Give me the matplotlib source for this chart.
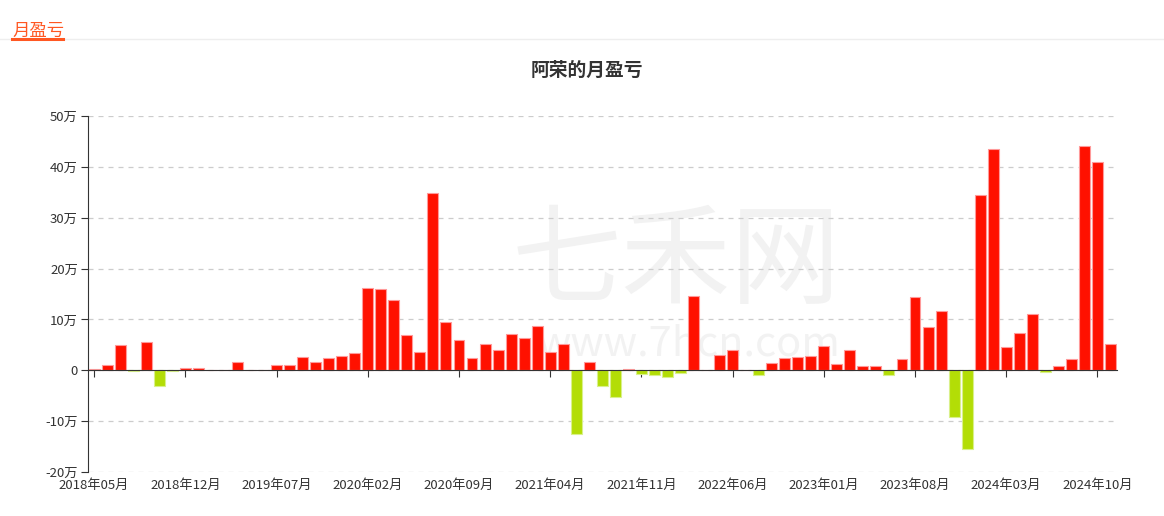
import matplotlib
matplotlib.use("Agg")
import matplotlib.pyplot as plt
from matplotlib.lines import Line2D
import numpy as np

plt.rcParams['font.family'] = ['Noto Sans CJK SC', 'DejaVu Sans']

title = "阿荣的月盈亏"
header = "月盈亏"

# months 2018-05 .. 2024-11
months = []
y, m = 2018, 5
while (y, m) <= (2024, 11):
    months.append(f"{y}年{m:02d}月")
    m += 1
    if m > 12:
        y, m = y + 1, 1

# monthly profit / loss, unit: 万
pnl = [0.3, 1.1, 5.05, -0.2, 5.5, -3.0, -0.2, 0.5, 0.5, 0.05,
       0.0, 1.6, 0.03, 0.0, 1.1, 1.1, 2.56, 1.64, 2.36, 2.88,
       3.47, 16.25, 15.9, 13.76, 7.0, 3.67, 34.73, 9.44, 6.03, 2.36,
       5.18, 3.93, 7.2, 6.29, 8.65, 3.6, 5.18, -12.39, 1.57, -3.01,
       -5.31, 0.2, -0.66, -0.92, -1.38, -0.46, 14.68, 0.05, 2.95, 4.06,
       0.02, -0.85, 1.44, 2.42, 2.56, 2.88, 4.85, 1.31, 4.06, 0.79,
       0.79, -0.98, 2.23, 14.35, 8.52, 11.73, -9.24, -15.47, 34.4, 43.45,
       4.52, 7.4, 11.0, -0.3, 0.79, 2.29, 44.04, 41.0, 5.24]

yticks = [-20, -10, 0, 10, 20, 30, 40, 50]
ytick_labels = [f"{v}万" if v != 0 else "0" for v in yticks]

red = "#ff1100"
green = "#b3dd06"

fig = plt.figure(figsize=(11.64, 5.16), dpi=100)
ax = fig.add_axes([0.0753, 0.0847, 0.8843, 0.6911])

x = np.arange(len(pnl))
colors = [red if v >= 0 else green for v in pnl]
edges = ["#ff9a9a" if v >= 0 else "#d9f08a" for v in pnl]
ax.bar(x, pnl, width=0.84, color=colors, edgecolor=edges, linewidth=0.8, zorder=3)

ax.set_xlim(-0.5, len(pnl) - 0.5)
ax.set_ylim(-20, 50)
ax.set_yticks(yticks)
ax.set_yticklabels(ytick_labels, fontsize=9.5, color="#333333")
ax.tick_params(axis="y", direction="out", length=5, color="#333333", pad=2)
ax.yaxis.grid(True, linestyle=(0, (4, 4)), color="#cccccc", linewidth=0.9, zorder=0)

for s in ["top", "right"]:
    ax.spines[s].set_visible(False)
ax.spines["left"].set_color("#333333")
ax.spines["bottom"].set_position(("data", 0))
ax.spines["bottom"].set_color("#333333")
ax.spines["bottom"].set_zorder(4)

tick_pos = x[::7]
ax.set_xticks(tick_pos)
ax.set_xticklabels([])
ax.tick_params(axis="x", direction="out", length=5, color="#333333")

sec = ax.secondary_xaxis("bottom")
sec.set_xticks(tick_pos)
sec.set_xticklabels([months[i] for i in tick_pos], fontsize=9.5, color="#333333")
sec.tick_params(length=0, pad=5)
sec.spines["bottom"].set_visible(False)

# watermark
fig.text(0.581, 0.488, "七禾网", fontsize=79, color="#f2f2f2", ha="center", va="center", zorder=0)
fig.text(0.592, 0.333, "www.7hcn.com", fontsize=30, color="#f2f2f2", ha="center", va="center", zorder=0)
ax.set_facecolor("none")
ax.set_zorder(2)

fig.text(0.504, 0.863, title, fontsize=13.5, fontweight="bold", color="#333333", ha="center", va="center")

# header
fig.text(0.0105, 0.941, header, fontsize=12.5, color="#ff5722", ha="left", va="center")
fig.add_artist(Line2D([0.0, 1.0], [0.924, 0.924], color="#eeeeee", linewidth=1))
fig.add_artist(Line2D([0.0105, 0.054], [0.925, 0.925], color="#ff5722", linewidth=2.2))

fig.savefig("out.png", dpi=100)
